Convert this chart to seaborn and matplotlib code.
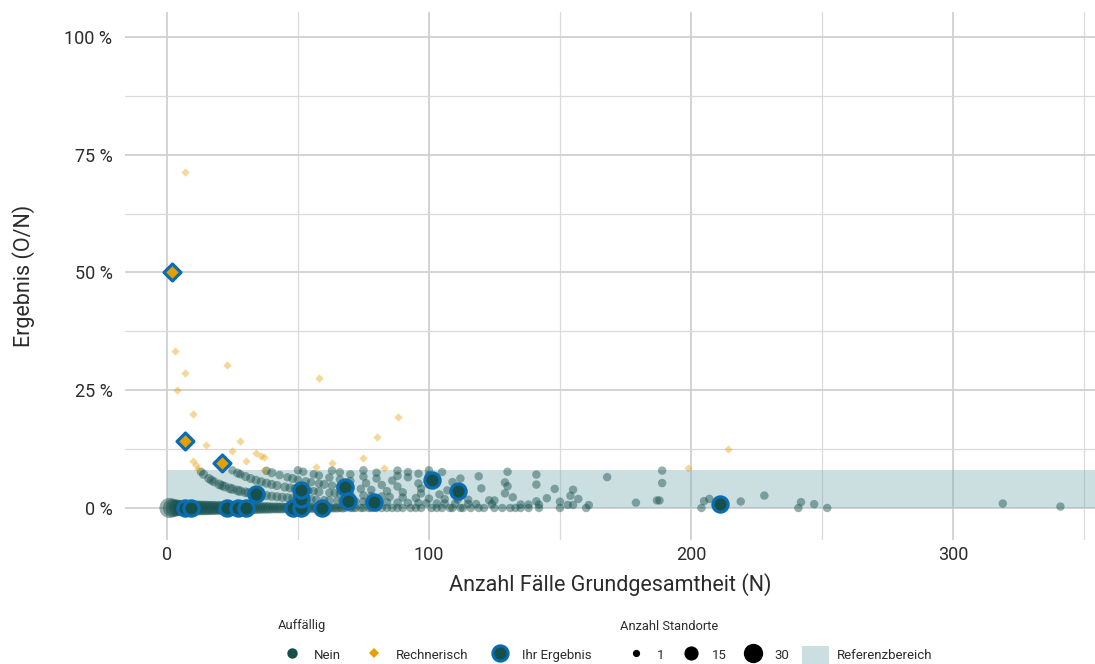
import matplotlib
matplotlib.use("Agg")
import matplotlib.pyplot as plt
from matplotlib.lines import Line2D
from matplotlib.patches import Patch, Rectangle
from matplotlib.ticker import MultipleLocator, FuncFormatter
import pandas as pd
import seaborn as sns

# --- Standorte ohne Auffälligkeit, Ergebnis 0 (N, Anzahl Standorte)
zero_n = [1, 2, 3, 4, 5, 6, 7, 8, 9, 10,
          11, 12, 13, 14, 15, 16, 17, 18, 19, 20,
          21, 22, 23, 24, 25, 26, 27, 28, 29, 30,
          31, 32, 33, 34, 35, 36, 37, 38, 39, 40,
          41, 42, 43, 44, 45, 46, 47, 48, 49, 50,
          51, 52, 53, 54, 55, 56, 57, 58, 59, 60,
          61, 62, 63, 64, 65, 66, 67, 68, 70, 71,
          72, 74, 75, 77, 78, 80, 82, 84, 86, 88,
          90, 93, 95, 97, 101, 103, 105, 108, 109, 112,
          113, 116, 119, 121, 125, 128, 131, 133, 135, 138,
          142, 150, 160, 204, 241, 252]
zero_k = [30, 24, 21, 19, 18, 17, 16, 16, 15, 15,
          14, 14, 13, 13, 13, 12, 12, 12, 11, 11,
          11, 10, 10, 10, 10, 9, 9, 9, 8, 8,
          8, 7, 7, 7, 7, 6, 6, 6, 6, 5,
          5, 5, 5, 5, 4, 4, 4, 4, 4, 4,
          3, 3, 3, 3, 3, 3, 3, 2, 2, 2,
          2, 2, 2, 2, 2, 1, 2, 1, 1, 1,
          1, 1, 1, 1, 1, 1, 1, 1, 1, 1,
          1, 1, 1, 1, 1, 1, 1, 1, 1, 1,
          1, 1, 1, 1, 1, 1, 1, 1, 1, 1,
          1, 1, 1, 1, 1, 1]

# --- Standorte ohne Auffälligkeit, Ergebnis > 0 (N, O, Anzahl Standorte)
nein_n = [13, 14, 16, 17, 18, 20, 21, 22, 24, 25, 27, 28, 30,
          31, 33, 34, 36, 38, 40, 42, 44, 46, 48,
          50, 53, 55, 57, 60, 62, 65, 67, 70, 72,
          75, 77, 80, 84, 88, 92, 96, 99, 103, 106, 110, 115,
          118, 124, 135, 138, 142, 153, 155, 161, 341,
          25, 27, 28, 30, 32, 34, 36, 38, 40, 42, 45, 47, 49,
          52, 54, 56, 58, 62, 64, 66, 70, 75, 78, 82, 85, 90, 95, 100,
          106, 111, 115, 123, 125, 141, 150, 179, 247,
          38, 40, 43, 46, 48, 50, 53, 55, 58, 60, 63, 66, 70, 74, 78, 84, 90,
          97, 104, 110, 132, 145, 157, 187, 188, 205, 219, 242, 319,
          50, 52, 56, 58, 62, 66, 70, 76, 82, 88, 97, 107, 113, 129, 154, 207,
          63, 66, 70, 75, 80, 86, 96, 100, 120,
          75, 80, 88, 92, 109, 130, 148, 155, 228,
          88, 92, 96, 100, 112, 129, 141,
          100, 105, 119,
          130, 141, 189,
          168,
          189]
nein_o = [1] * 54 + [2] * 37 + [3] * 29 + [4] * 16 + [5] * 9 + [6] * 9 + \
         [7] * 7 + [8] * 3 + [10] * 3 + [11] + [15]
nein_k = [1, 2, 2, 2, 2, 3, 2, 3, 3, 3, 3, 3, 3,
          2, 3, 2, 2, 2, 2, 2, 2, 2, 2,
          2, 1, 2, 1, 1, 1, 1, 1, 1, 1,
          1, 1, 1, 1, 1, 1, 1, 1, 1, 1, 1, 1,
          1, 1, 1, 1, 1, 1, 1, 1, 1,
          1, 2, 1, 2, 2, 2, 2, 2, 2, 2, 2, 2, 2,
          2, 1, 1, 2, 1, 1, 1, 1, 1, 1, 1, 1, 1, 1, 1,
          1, 1, 1, 1, 1, 1, 1, 1, 1,
          1, 2, 1, 1, 2, 1, 1, 1, 1, 2, 1, 1, 1, 1, 1, 1, 1,
          1, 1, 1, 1, 1, 1, 1, 1, 1, 1, 1, 1,
          1, 1, 1, 1, 1, 1, 1, 1, 1, 1, 1, 1, 1, 1, 1, 1,
          1, 1, 1, 1, 1, 1, 1, 1, 1,
          1, 1, 1, 1, 1, 1, 1, 1, 1,
          1, 1, 1, 1, 1, 1, 1,
          1, 1, 1,
          1, 1, 1,
          1,
          1]

# --- rechnerisch auffällige Standorte (N, O)
rech_n = [3, 4, 7, 7, 10, 10, 11, 12, 15, 23, 25, 28, 30, 34, 36, 37, 37,
          57, 58, 63, 75, 80, 83, 88, 199, 214]
rech_o = [1, 1, 2, 5, 1, 2, 1, 1, 2, 7, 3, 4, 3, 4, 4, 3, 4,
          5, 16, 6, 8, 12, 7, 17, 17, 27]

# --- eigene Standorte (Ihr Ergebnis)
ihr_n = [7, 9, 23, 27, 30, 34, 48, 51, 51, 51, 59, 68, 69, 79, 101, 111, 211,
         2, 7, 21]
ihr_o = [0, 0, 0, 0, 0, 1, 0, 0, 1, 2, 0, 3, 1, 1, 6, 4, 2,
         1, 1, 2]

# Referenzbereich (obere Grenze in %)
ref_upper = 8.0

teal = "#15504b"
orange = "#e69f00"
blue = "#0a6db3"
band = "#7fb0b5"
text_col = "#2b2b2b"

zero = pd.DataFrame({"N": zero_n, "O": 0, "k": zero_k})
nein = pd.DataFrame({"N": nein_n, "O": nein_o, "k": nein_k})
nein = pd.concat([zero, nein], ignore_index=True)
nein["pct"] = 100 * nein["O"] / nein["N"]
rech = pd.DataFrame({"N": rech_n, "O": rech_o})
rech["pct"] = 100 * rech["O"] / rech["N"]
ihr = pd.DataFrame({"N": ihr_n, "O": ihr_o})
ihr["pct"] = 100 * ihr["O"] / ihr["N"]
ihr_circ = ihr[ihr["pct"] <= ref_upper]
ihr_diam = ihr[ihr["pct"] > ref_upper]

sns.set_theme(style="white")
plt.rcParams["font.family"] = ["Roboto", "DejaVu Sans"]

fig = plt.figure(figsize=(10.95, 6.64), dpi=100)
ax = fig.add_axes([125 / 1095, 1 - 540 / 664, 1 - 125 / 1095, (540 - 12) / 664])

xmin, xmax = -16.0, 354.2
ax.set_xlim(xmin, xmax)
ax.set_ylim(-6.8, 105.3)

ax.add_patch(Rectangle((0, 0), xmax, ref_upper, facecolor=band, alpha=0.4,
                       edgecolor="none", zorder=1))

size_range = (37, 212)
sns.scatterplot(data=nein, x="N", y="pct", size="k", sizes=size_range,
                size_norm=(1, 30), color=teal, alpha=0.45, linewidth=0,
                legend=False, ax=ax, zorder=2)
sns.scatterplot(data=rech, x="N", y="pct", marker="D", s=18, color=orange,
                alpha=0.4, linewidth=0, legend=False, ax=ax, zorder=3)
sns.scatterplot(data=ihr_circ, x="N", y="pct", marker="o", s=120, color=teal,
                edgecolor=blue, linewidth=2.3, legend=False, ax=ax, zorder=4)
sns.scatterplot(data=ihr_diam, x="N", y="pct", marker="D", s=74, color=orange,
                edgecolor=blue, linewidth=2.3, legend=False, ax=ax, zorder=5)

ax.xaxis.set_major_locator(MultipleLocator(100))
ax.xaxis.set_minor_locator(MultipleLocator(50))
ax.yaxis.set_major_locator(MultipleLocator(25))
ax.yaxis.set_minor_locator(MultipleLocator(12.5))
ax.yaxis.set_major_formatter(FuncFormatter(lambda v, p: f"{int(round(v))} %"))
ax.grid(which="major", color="#d0d0d0", linewidth=1.3)
ax.grid(which="minor", color="#dadada", linewidth=0.9)
ax.set_axisbelow(True)
for s in ax.spines.values():
    s.set_visible(False)
ax.tick_params(which="both", length=0, labelsize=13, colors=text_col)
ax.tick_params(axis="x", pad=4)
ax.tick_params(axis="y", pad=9)

ax.set_xlabel("Anzahl Fälle Grundgesamtheit (N)", fontsize=15.5, color=text_col,
              labelpad=7)
ax.set_ylabel("Ergebnis (O/N)", fontsize=15.5, color=text_col, labelpad=21)

# legend titles as separate text, entries as two borderless legends
fig.text(278 / 1095, 1 - 626 / 664, "Auffällig", fontsize=9.3, color=text_col,
         ha="left", va="center")
fig.text(620 / 1095, 1 - 626 / 664, "Anzahl Standorte", fontsize=9.3,
         color=text_col, ha="left", va="center")

leg_kw = dict(frameon=False, fontsize=9.5, borderpad=0, borderaxespad=0,
              labelcolor=text_col, loc="center left")
row_y = 1 - 655 / 664

h1 = [
    Line2D([], [], ls="", marker="o", markersize=7.5, markerfacecolor=teal,
           markeredgewidth=0, label="Nein"),
    Line2D([], [], ls="", marker="D", markersize=5.5, markerfacecolor=orange,
           markeredgewidth=0, label="Rechnerisch"),
    Line2D([], [], ls="", marker="o", markersize=11, markerfacecolor=teal,
           markeredgecolor=blue, markeredgewidth=2.2, label="Ihr Ergebnis"),
]
leg1 = fig.legend(handles=h1, ncol=3, bbox_to_anchor=(283 / 1095, row_y),
                  handlelength=1.4, handletextpad=0.97, columnspacing=1.75,
                  handleheight=1.6, **leg_kw)

h2 = [
    Line2D([], [], ls="", marker="o", markersize=5.2, markerfacecolor="black",
           markeredgewidth=0, label="1"),
    Line2D([], [], ls="", marker="o", markersize=10.2, markerfacecolor="black",
           markeredgewidth=0, label="15"),
    Line2D([], [], ls="", marker="o", markersize=13.9, markerfacecolor="black",
           markeredgewidth=0, label="30"),
    Patch(facecolor=band, alpha=0.4, edgecolor="none", label="Referenzbereich"),
]
leg2 = fig.legend(handles=h2, ncol=4, bbox_to_anchor=(622 / 1095, row_y),
                  handlelength=2.1, handleheight=1.7, handletextpad=0.55,
                  columnspacing=0.95, **leg_kw)

fig.savefig("out.png", dpi=100, facecolor="white")
